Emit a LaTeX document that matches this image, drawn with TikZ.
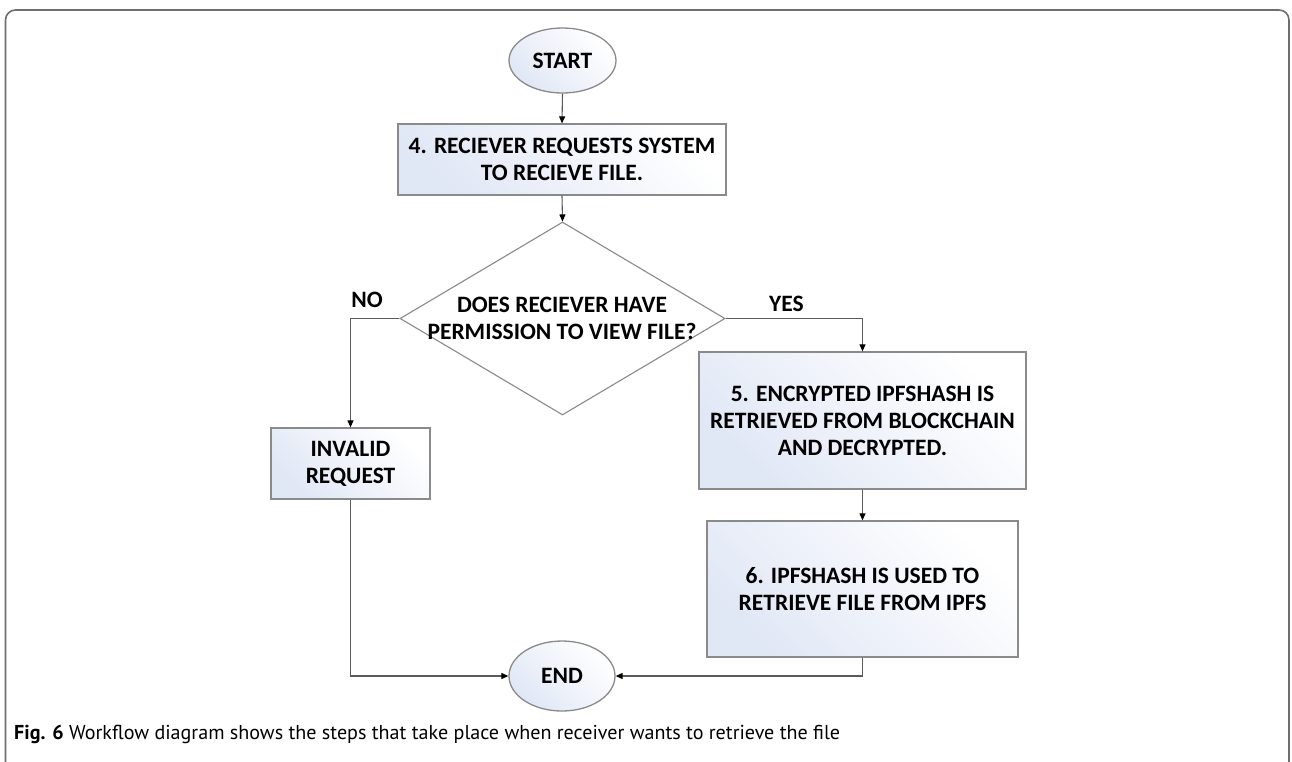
\documentclass[tikz,border=0pt]{standalone}
\usepackage{fontspec}
\setmainfont{Carlito}
\newfontfamily\capfont{PT Sans}
\usetikzlibrary{shapes.geometric,arrows.meta}
\definecolor{boxborder}{HTML}{8A8A8A}
\definecolor{boxfill}{HTML}{E0E7F5}
\definecolor{linecol}{HTML}{5A5A5A}
\definecolor{framecol}{HTML}{6E6E6E}
\begin{document}
\begin{tikzpicture}[x=1pt,y=-1pt,
  shadefill/.style={draw=boxborder, line width=1.3pt, top color=boxfill, bottom color=white, shading angle=135},
  procbox/.style={shadefill, rectangle, inner sep=0pt, align=center, font=\fontsize{23.5}{27}\selectfont\bfseries},
  termnode/.style={shadefill, ellipse, inner sep=0pt, font=\fontsize{23.5}{27}\selectfont\bfseries},
  txt/.style={inner sep=0pt, align=center, font=\fontsize{23.5}{27}\selectfont\bfseries},
  conn/.style={draw=linecol, line width=1.1pt, -{Triangle[length=7pt,width=6pt,fill=black,color=black]}},
  plainconn/.style={draw=linecol, line width=1.1pt}
]
\useasboundingbox (0,0) rectangle (1292,761);
% frame
\draw[framecol, line width=1.6pt, rounded corners=10pt] (5.5,762) -- (5.5,10) -- (1289,10) -- (1289,762);

\node[termnode, minimum width=107pt, minimum height=65pt] (start) at (562.5,60.5) {START};
\node[procbox, minimum width=328pt, minimum height=71pt] (b4) at (562,159.5) {4. RECIEVER REQUESTS SYSTEM\\TO RECIEVE FILE.};
\node[diamond, draw=boxborder, line width=1.1pt, fill=white, inner sep=0pt, minimum width=325pt, minimum height=193pt] (dec) at (562.5,318.5) {};
\node[txt] (dectxt) at (562,318) {DOES RECIEVER HAVE\\PERMISSION TO VIEW FILE?};
\node[procbox, minimum width=159pt, minimum height=71pt] (inv) at (350.5,463.5) {INVALID\\REQUEST};
\node[procbox, minimum width=327pt, minimum height=137pt] (b5) at (862.5,420.5) {5. ENCRYPTED IPFSHASH IS\\RETRIEVED FROM BLOCKCHAIN\\AND DECRYPTED.};
\node[procbox, minimum width=311pt, minimum height=136pt] (b6) at (862.5,589) {6. IPFSHASH IS USED TO\\RETRIEVE FILE FROM IPFS};
\node[termnode, minimum width=106pt, minimum height=70pt] (end) at (562,676) {END};

\node[txt] (no) at (367,300) {NO};
\node[txt] (yes) at (786.5,303.5) {YES};

\draw[conn] (start.south) -- (b4.north);
\draw[conn] (b4.south) -- (dec.north);
\draw[conn] (dec.west) -| (inv.north);
\draw[conn] (dec.east) -| (b5.north);
\draw[conn] (b5.south) -- (b6.north);
\draw[conn] (inv.south) |- (end.west);
\draw[conn] (b6.south) |- (end.east);

\node[anchor=base west, inner sep=0pt, font=\capfont\fontsize{20.1}{22}\selectfont] (cap) at (14,739) {\textbf{Fig. 6} Workflow diagram shows the steps that take place when receiver wants to retrieve the file};
\end{tikzpicture}
\end{document}
